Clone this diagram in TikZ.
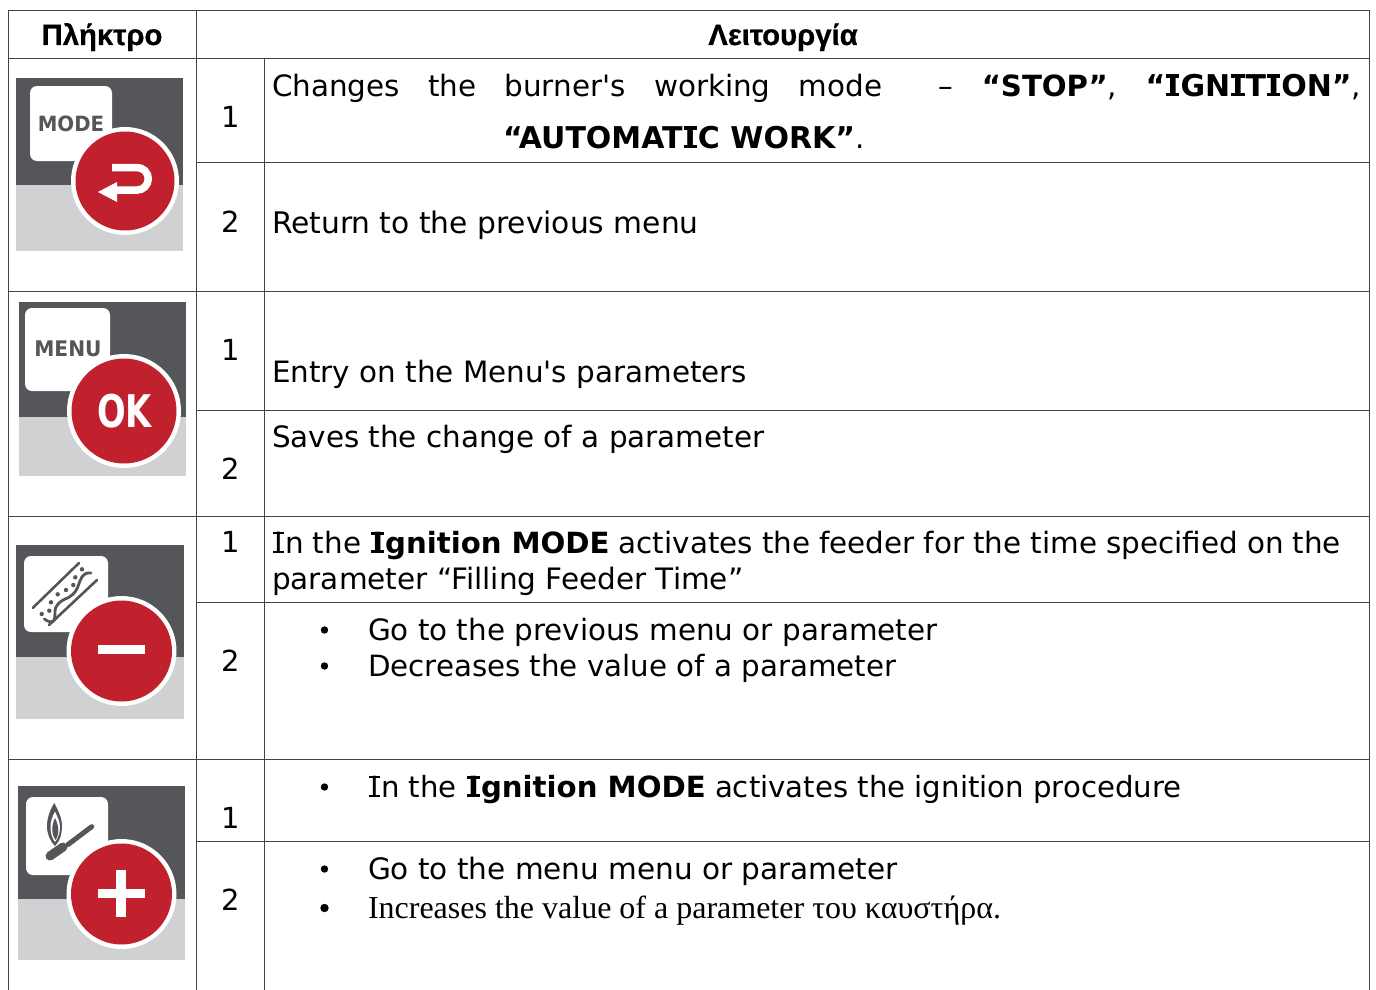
\documentclass[tikz,border=0pt]{standalone}
\usepackage{fontspec}
\setmainfont{DejaVu Sans}
\newfontfamily\plainfont{DejaVu Sans}
\newfontfamily\hdrfont[BoldFeatures={FakeBold=0.7}]{Liberation Sans}
\newfontfamily\serfont{Liberation Serif}
\newfontfamily\okfont[FakeStretch=0.75]{DejaVu Sans}
\newfontfamily\keyfont[FakeStretch=0.94]{DejaVu Sans}
\usetikzlibrary{calc}
\definecolor{icondark}{HTML}{55565A}
\definecolor{iconlight}{HTML}{CFD1D3}
\definecolor{iconred}{HTML}{C1202D}
\definecolor{rulecol}{HTML}{444444}
\newcommand{\bodysize}{\fontsize{29.4}{36}\selectfont}
\newcommand{\tb}[1]{{\fontsize{30}{36}\selectfont\bfseries #1}}
\newcommand{\tbs}[1]{{\fontsize{29.2}{36}\selectfont\bfseries #1}}
% capital I with slab serifs: width, thickness
\newcommand{\slabI}[2]{\kern.035em\hbox to #1{\hss I\hss}\kern-#1\rlap{\rule{#1}{#2}}\rlap{\raisebox{\dimexpr .729em-#2\relax}{\rule{#1}{#2}}}\kern#1\kern.035em\relax}
\newcommand{\bI}{\slabI{.44em}{.115em}}
\newcommand{\rI}{\slabI{.38em}{.075em}}
\newcommand{\apos}{{\plainfont '}}
\tikzset{
  rule/.style={draw=rulecol,line width=1pt},
  bodytext/.style={anchor=base west,inner sep=0pt,outer sep=0pt,font=\bodysize,text=black},
  numtext/.style={anchor=base,inner sep=0pt,outer sep=0pt,font=\fontsize{29}{34}\selectfont,text=black},
  headtext/.style={anchor=base,inner sep=0pt,outer sep=0pt,font=\hdrfont\bfseries\fontsize{29.3}{34}\selectfont,text=black},
  bullet/.style={fill=black,draw=none},
  card/.style={fill=white,draw=none,rounded corners=7pt},
  glyph/.style={draw=icondark,line cap=round},
}
\newcommand{\iconbase}[9]{%
  \fill[icondark] (#1,#2) rectangle (#3,#5);
  \fill[iconlight] (#1,#5) rectangle (#3,#4);
  \fill[card] (#6,#7) rectangle (#8,#9);
}
\newcommand{\iconbutton}[3]{%
  \fill[white] (#1,#2) circle (#3);
  \fill[iconred] (#1,#2) circle ({#3-4.5});
}
\begin{document}
\begin{tikzpicture}[x=1pt,y=-1pt]
\useasboundingbox (0,0) rectangle (1376,990);
\fill[white] (0,0) rectangle (1376,990);
% table rules
\draw[rule] (8.5,990) -- (8.5,10.5) -- (1369.5,10.5) -- (1369.5,990);
\draw[rule] (196,10.5) -- (196,990);
\draw[rule] (264.5,58.5) -- (264.5,990);
\draw[rule] (8.5,58.5) -- (1369.5,58.5);
\draw[rule] (8.5,291.5) -- (1369.5,291.5);
\draw[rule] (8.5,516.5) -- (1369.5,516.5);
\draw[rule] (8.5,759.5) -- (1369.5,759.5);
\draw[rule] (196,162.5) -- (1369.5,162.5);
\draw[rule] (196,410.5) -- (1369.5,410.5);
\draw[rule] (196,602.5) -- (1369.5,602.5);
\draw[rule] (196,841.5) -- (1369.5,841.5);
% header
\node[headtext] (h1) at (102,45) {Πλήκτρο};
\node[headtext] (h2) at (783,45) {Λειτουργία};
% numbers
\node[numtext] (n1) at (230.5,127) {1};
\node[numtext] (n2) at (230.5,232) {2};
\node[numtext] (n3) at (230.5,360) {1};
\node[numtext] (n4) at (230.5,479) {2};
\node[numtext] (n5) at (230.5,552) {1};
\node[numtext] (n6) at (230.5,671) {2};
\node[numtext] (n7) at (230.5,828) {1};
\node[numtext] (n8) at (230.5,910) {2};
% texts
\node[bodytext] (t1) at (272,96) {\hbox to 1089pt{Changes\hfill the\hfill burner\apos s\hfill working\hfill mode\hfill\hfill –\hfill \tbs{“STOP”},\hfill \tb{“\bI GN\bI T\bI ON”},}};
\node[bodytext] (t2) at (503,148) {\tb{“AUTOMAT\bI C WORK”}.};
\node[bodytext,font=\fontsize{29.7}{36}\selectfont] (t3) at (272,233) {Return to the previous menu};
\node[bodytext] (t4) at (272,382) {Entry on the Menu\apos s parameters};
\node[bodytext] (t5) at (272,447) {Saves the change of a parameter};
\node[bodytext] (t6) at (272,553) {\hbox to 1069pt{\rI n the \tbs{\bI gnition MODE} activates the feeder for the time specified on the}};
\node[bodytext,font=\fontsize{29.5}{36}\selectfont] (t7) at (272,589) {parameter “Filling Feeder Time”};
\node[bodytext] (t8) at (368,640) {Go to the previous menu or parameter};
\node[bodytext,font=\fontsize{29.3}{36}\selectfont] (t9) at (368,676) {Decreases the value of a parameter};
\node[bodytext,font=\fontsize{29.2}{36}\selectfont] (t10) at (368,797) {\rI n the \tbs{\bI gnition MODE} activates the ignition procedure};
\node[bodytext,font=\fontsize{29.5}{36}\selectfont] (t11) at (368,879) {Go to the menu menu or parameter};
\node[bodytext,font=\serfont\fontsize{32}{38}\selectfont] (t12) at (368,918) {Increases the value of a parameter του καυστήρα.};
% bullets
\foreach \yy in {630,666,787,869} \fill[bullet] (324.5,\yy) circle (3.7);
\fill[bullet] (324.5,908) circle (4.2);
% MODE icon
\iconbase{16}{78}{183}{251}{185}{30}{86}{112}{161}
\node[font=\keyfont\bfseries\fontsize{21}{24}\selectfont,text=icondark,inner sep=0pt] (kmode) at (71,124) {MODE};
\iconbutton{125}{181}{54}
\draw[white,line width=7.5pt] (112,167.5) -- (137,167.5) arc (-90:90:11.3) -- (115,190);
\fill[white] (98,192) -- (117,182) -- (117,202) -- cycle;
% MENU icon
\iconbase{19}{302}{186}{476}{417}{25}{308}{110}{391}
\node[font=\keyfont\bfseries\fontsize{21.5}{24}\selectfont,text=icondark,inner sep=0pt] (kmenu) at (68,349) {MENU};
\iconbutton{124}{411}{57}
\node[font=\okfont\bfseries\fontsize{45}{48}\selectfont,text=white,inner sep=0pt] (kok) at (124.5,411) {OK};
% minus icon
\iconbase{16}{545}{184}{719}{657}{24}{556}{108}{632}
\draw[glyph,line width=2.6pt] (32.7,608) -- (79,563);
\draw[glyph,line width=2.6pt] (49,625) -- (97,580);
\draw[glyph,line width=2.8pt] (44.3,619) .. controls (48,622) and (53,623) .. (54.3,620) .. controls (56,615) and (53,609) .. (58,604) .. controls (62,599) and (68,599) .. (72,595) .. controls (78,590) and (78,585) .. (80,581) .. controls (82,575) and (86,572) .. (91,573);
\foreach \px/\py in {82/569.3,75.3/577.3,73.3/585,66/590,57.7/594.3,51/602.3,49.3/610.7,41.7/614} \fill[icondark] (\px,\py) circle (2.2);
\iconbutton{121.5}{651}{55}
\fill[white] (98,645) rectangle (145,654);
% plus icon
\iconbase{18}{786}{185}{960}{899}{26}{797}{108}{875}
\fill[icondark] (54.3,803) .. controls (50,810) and (47,818) .. (47,826) .. controls (47,834) and (50,841) .. (55,846) .. controls (60,841) and (62,834) .. (62,826) .. controls (62,818) and (58,810) .. (54.3,803) -- cycle;
\fill[white] (55,811.5) .. controls (52,817) and (50.5,822) .. (50.5,827) .. controls (50.5,833) and (52,838) .. (55,842) .. controls (58,838) and (60,833) .. (60,827) .. controls (60,822) and (57.5,817) .. (55,811.5) -- cycle;
\fill[icondark] (55,818) .. controls (53,822) and (52.3,826) .. (52.3,830) .. controls (52.3,834) and (54,838) .. (55.7,840) .. controls (57.5,837) and (58.3,834) .. (58.3,830) .. controls (58.3,826) and (57,822) .. (55,818) -- cycle;
\draw[glyph,line width=5pt] (68,844.5) -- (91.7,826.7);
\draw[glyph,line width=9pt] (50,856) -- (63,847);
\iconbutton{121.5}{894}{55}
\fill[white] (98,889) rectangle (145,898);
\fill[white] (116,870) rectangle (126,917);
\end{tikzpicture}
\end{document}
